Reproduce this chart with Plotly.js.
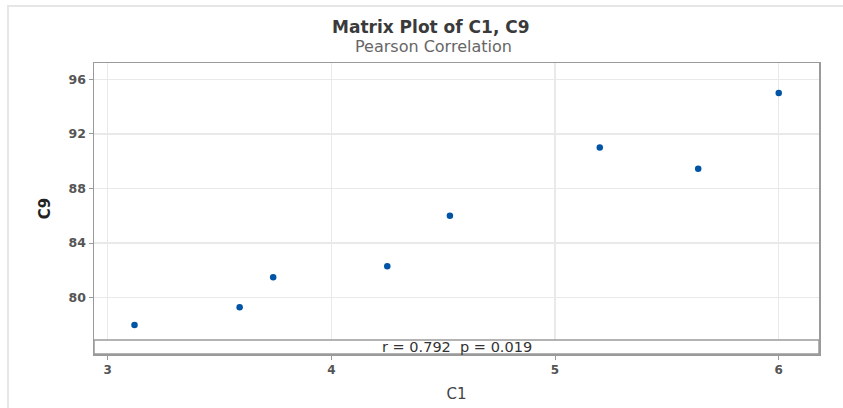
<!DOCTYPE html>
<html>
<head>
<meta charset="utf-8">
<script src="https://cdn.plot.ly/plotly-3.0.1.min.js"></script>
<style>
html,body{margin:0;padding:0;background:#fff;}
#wrap{position:relative;width:843px;height:408px;}
#frame{position:absolute;left:7px;top:5px;width:840px;height:410px;border-left:2px solid #e6e6e6;border-top:2px solid #e6e6e6;pointer-events:none;z-index:5;}
#chart{width:843px;height:408px;}
</style>
</head>
<body>
<div id="wrap"><div id="frame"></div><div id="chart"></div></div>
<script>
const c1 = [3.12, 3.59, 3.74, 4.25, 4.53, 5.20, 5.64, 6.00];
const c9 = [78.0, 79.3, 81.5, 82.3, 86.0, 91.0, 89.45, 95.0];
const xTicks = [3, 4, 5, 6];
const yTicks = [80, 84, 88, 92, 96];
const titleText = 'Matrix Plot of C1, C9';
const subtitleText = 'Pearson Correlation';
const statText = 'r = 0.792\u00a0\u00a0p = 0.019';

const font = '"DejaVu Sans", "Noto Sans", sans-serif';

const trace = {
  x: c1, y: c9, type: 'scatter', mode: 'markers',
  marker: {color: '#0054a6', size: 6.5},
  hoverinfo: 'skip', showlegend: false
};

const layout = {
  width: 843, height: 408,
  margin: {l: 94, r: 24, t: 63, b: 54},
  paper_bgcolor: '#fff', plot_bgcolor: '#fff',
  font: {family: font, color: '#333'},
  xaxis: {
    range: [2.939, 6.18], tickvals: xTicks, ticktext: xTicks.map(String),
    showgrid: true, gridcolor: '#e9e9e9', gridwidth: 1.5, zeroline: false,
    showline: true, linecolor: '#9a9a9a', linewidth: 1.5, mirror: true,
    ticks: 'outside', ticklen: 4, tickcolor: '#9a9a9a', tickwidth: 1,
    tickfont: {size: 12, color: '#555', family: font, weight: 'bold'},
    title: {text: 'C1', font: {size: 15, color: '#444', family: font}, standoff: 12}
  },
  yaxis: {
    range: [75.88, 97.19], tickvals: yTicks, ticktext: yTicks.map(String),
    showgrid: true, gridcolor: '#e9e9e9', gridwidth: 1.5, zeroline: false,
    showline: true, linecolor: '#9a9a9a', linewidth: 1.5, mirror: true,
    ticks: 'outside', ticklen: 4, tickcolor: '#9a9a9a', tickwidth: 1,
    tickfont: {size: 12.5, color: '#555', family: font, weight: 'bold'},
    title: {text: 'C9', font: {size: 15, color: '#222', family: font, weight: 'bold'}, standoff: 14}
  },
  shapes: [{
    type: 'rect', xref: 'paper', yref: 'paper', x0: 0, x1: 1, y0: 0, y1: 0.048,
    fillcolor: '#fff', line: {color: '#9a9a9a', width: 1.5}, layer: 'above'
  }],
  annotations: [
    {text: titleText, xref: 'paper', yref: 'paper', x: 0.465, y: 1, yshift: 36, showarrow: false,
     font: {size: 17, color: '#3a3a3a', family: font, weight: 'bold'}, xanchor: 'center', yanchor: 'middle'},
    {text: subtitleText, xref: 'paper', yref: 'paper', x: 0.468, y: 1, yshift: 17, showarrow: false,
     font: {size: 16, color: '#666', family: font}, xanchor: 'center', yanchor: 'middle'},
    {text: statText, xref: 'paper', yref: 'paper', x: 0.5, y: 0.024, showarrow: false,
     font: {size: 14.5, color: '#333', family: font}, xanchor: 'center', yanchor: 'middle'}
  ]
};

Plotly.newPlot('chart', [trace], layout, {displayModeBar: false, staticPlot: true});
</script>
</body>
</html>
